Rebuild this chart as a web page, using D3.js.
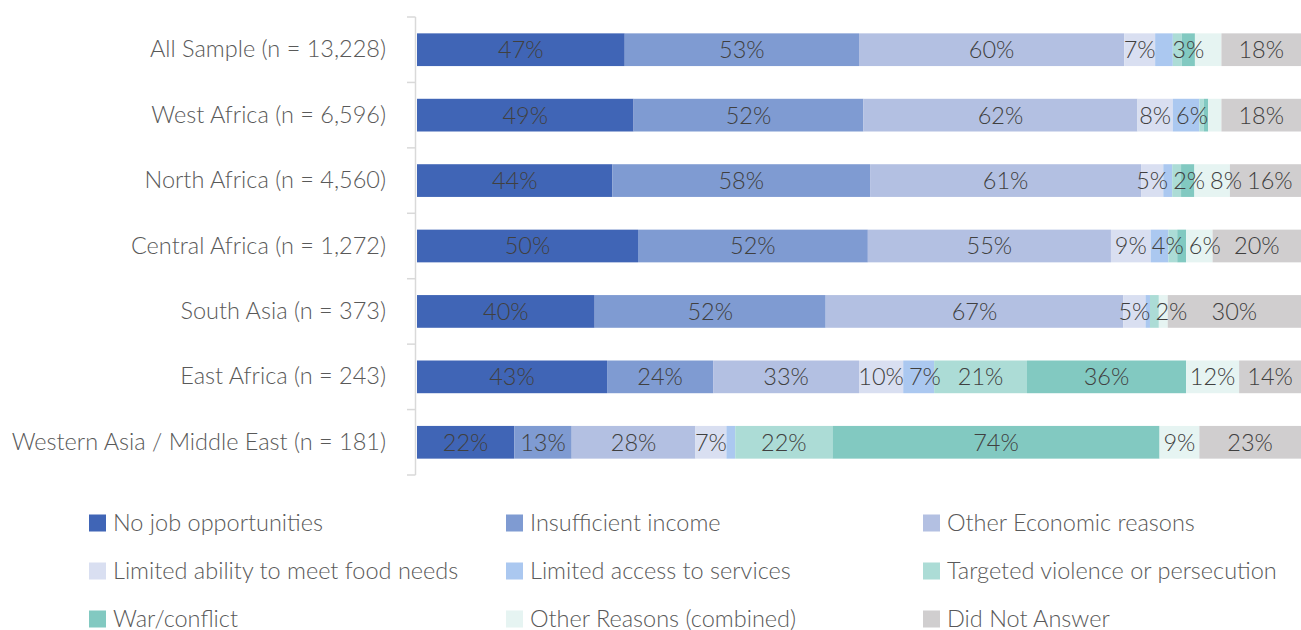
<!DOCTYPE html>
<html>
<head>
<meta charset="utf-8">
<script src="https://cdn.jsdelivr.net/npm/d3@7"></script>
<style>
  html, body { margin: 0; padding: 0; background: #ffffff; }
  svg { display: block; font-family: "Lato", "Open Sans", sans-serif; font-weight: 300; }
</style>
</head>
<body>
<svg id="chart" width="1301" height="630"></svg>
<script>
// Regions (rows, top to bottom)
const regions = [
  "All Sample (n = 13,228)",
  "West Africa (n = 6,596)",
  "North Africa (n = 4,560)",
  "Central Africa (n = 1,272)",
  "South Asia (n = 373)",
  "East Africa (n = 243)",
  "Western Asia / Middle East (n = 181)"
];

// Reasons for leaving, in stacking order
const reasons = [
  "No job opportunities",
  "Insufficient income",
  "Other Economic reasons",
  "Limited ability to meet food needs",
  "Limited access to services",
  "Targeted violence or persecution",
  "War/conflict",
  "Other Reasons (combined)",
  "Did Not Answer"
];

// Share of respondents (%) per reason, one value per region
const noJob        = [47, 49, 44, 50, 40, 43, 22];
const insufficient = [53, 52, 58, 52, 52, 24, 13];
const otherEcon    = [60, 62, 61, 55, 67, 33, 28];
const foodNeeds    = [7, 8, 5, 9, 5, 10, 7];
const services     = [4, 6, 2, 4, 1, 7, 2];
const targeted     = [2, 1, 2, 2, 2, 21, 22];
const war          = [3, 1, 3, 2, 0, 36, 74];
const otherReasons = [6, 3, 8, 6, 2, 12, 9];
const noAnswer     = [18, 18, 16, 20, 30, 14, 23];

// Segments whose value label is left off (too narrow): [reason index, region index]
const unlabeled = [
  [4, 0], [5, 0], [7, 0],
  [5, 1], [6, 1], [7, 1],
  [4, 2], [6, 2],
  [5, 3], [6, 3],
  [4, 4], [5, 4], [6, 4],
  [4, 6]
];

const colors = ["#4065b6", "#7f9bd2", "#b3c0e2", "#d9dff1", "#abc8f0",
                "#acdcd6", "#82c9c1", "#e6f4f2", "#d0cecf"];

const seriesValues = [noJob, insufficient, otherEcon, foodNeeds, services,
                      targeted, war, otherReasons, noAnswer];

// Build row records for d3.stack
const rows = regions.map((r, i) => {
  const o = { region: r, index: i };
  reasons.forEach((k, j) => { o[k] = seriesValues[j][i]; });
  return o;
});

const stack = d3.stack().keys(reasons).offset(d3.stackOffsetExpand);
const layers = stack(rows);

const svg = d3.select("#chart");
const plotTop = 17, plotBottom = 475, plotLeft = 417, plotRight = 1301;
const fontSize = 23.5;

const x = d3.scaleLinear().domain([0, 1]).range([plotLeft, plotRight]);
const y = d3.scaleBand().domain(regions).range([plotTop, plotBottom]).paddingInner(0.5).paddingOuter(0.25);

const hidden = new Set(unlabeled.map(d => d[0] + "-" + d[1]));

// Bars
const g = svg.append("g");
layers.forEach((layer, j) => {
  const lg = g.append("g").attr("fill", colors[j]);
  lg.selectAll("rect").data(layer).join("rect")
    .attr("x", d => x(d[0]))
    .attr("y", d => y(d.data.region))
    .attr("width", d => Math.max(0, x(d[1]) - x(d[0])))
    .attr("height", y.bandwidth());
});

// Value labels, centred on their segments
const labelLayer = g.append("g");
layers.forEach((layer, j) => {
  labelLayer.selectAll(null)
    .data(layer.filter((d, i) => !hidden.has(j + "-" + i) && seriesValues[j][i] > 0))
    .enter().append("text")
    .attr("class", "val")
    .attr("x", d => (x(d[0]) + x(d[1])) / 2)
    .attr("y", d => y(d.data.region) + y.bandwidth() / 2)
    .attr("dy", "0.36em")
    .attr("text-anchor", "middle")
    .attr("font-size", fontSize)
    .attr("fill", "#404040")
    .text(d => d.data[reasons[j]] + "%");
});

// Nudge crowded labels rightwards so neighbours in a row do not collide
const gap = 5;
regions.forEach(r => {
  const nodes = labelLayer.selectAll("text.val").filter(d => d.data.region === r).nodes()
    .map(n => ({ n, cx: +n.getAttribute("x"), w: n.getComputedTextLength() }))
    .sort((a, b) => a.cx - b.cx);
  let prevRight = -Infinity;
  nodes.forEach(o => {
    let left = o.cx - o.w / 2;
    if (left < prevRight + gap) { left = prevRight + gap; o.cx = left + o.w / 2; }
    prevRight = left + o.w;
    o.n.setAttribute("x", o.cx);
  });
});

// Category axis: labels on the left, tick marks on row boundaries
const axis = svg.append("g")
  .attr("transform", `translate(${plotLeft - 1},0)`)
  .call(d3.axisLeft(y).tickSize(0).tickPadding(30));
axis.attr("font-family", null).attr("font-size", fontSize);
axis.select(".domain").remove();
axis.selectAll("text")
  .attr("fill", "#595959");

const step = y.step();
const boundaries = d3.range(regions.length + 1).map(i => plotTop + i * step);
svg.append("line")
  .attr("x1", plotLeft - 1.5).attr("x2", plotLeft - 1.5)
  .attr("y1", plotTop).attr("y2", plotBottom)
  .attr("stroke", "#d9d9d9").attr("stroke-width", 1.5);
svg.append("g").selectAll("line").data(boundaries).join("line")
  .attr("x1", plotLeft - 10).attr("x2", plotLeft - 1.5)
  .attr("y1", d => d).attr("y2", d => d)
  .attr("stroke", "#d9d9d9").attr("stroke-width", 1.5);

// Legend: three columns, three rows
const legendX = [89, 506, 923];
const legendY = [523, 571, 619];
const legend = svg.append("g").selectAll("g").data(reasons).join("g")
  .attr("transform", (d, i) => `translate(${legendX[i % 3]},${legendY[Math.floor(i / 3)]})`);
legend.append("rect")
  .attr("x", 0).attr("y", -8.5).attr("width", 17).attr("height", 17)
  .attr("fill", (d, i) => colors[i]);
legend.append("text")
  .attr("x", 24).attr("dy", "0.36em")
  .attr("font-size", fontSize)
  .attr("fill", "#595959")
  .text(d => d);
</script>
</body>
</html>
